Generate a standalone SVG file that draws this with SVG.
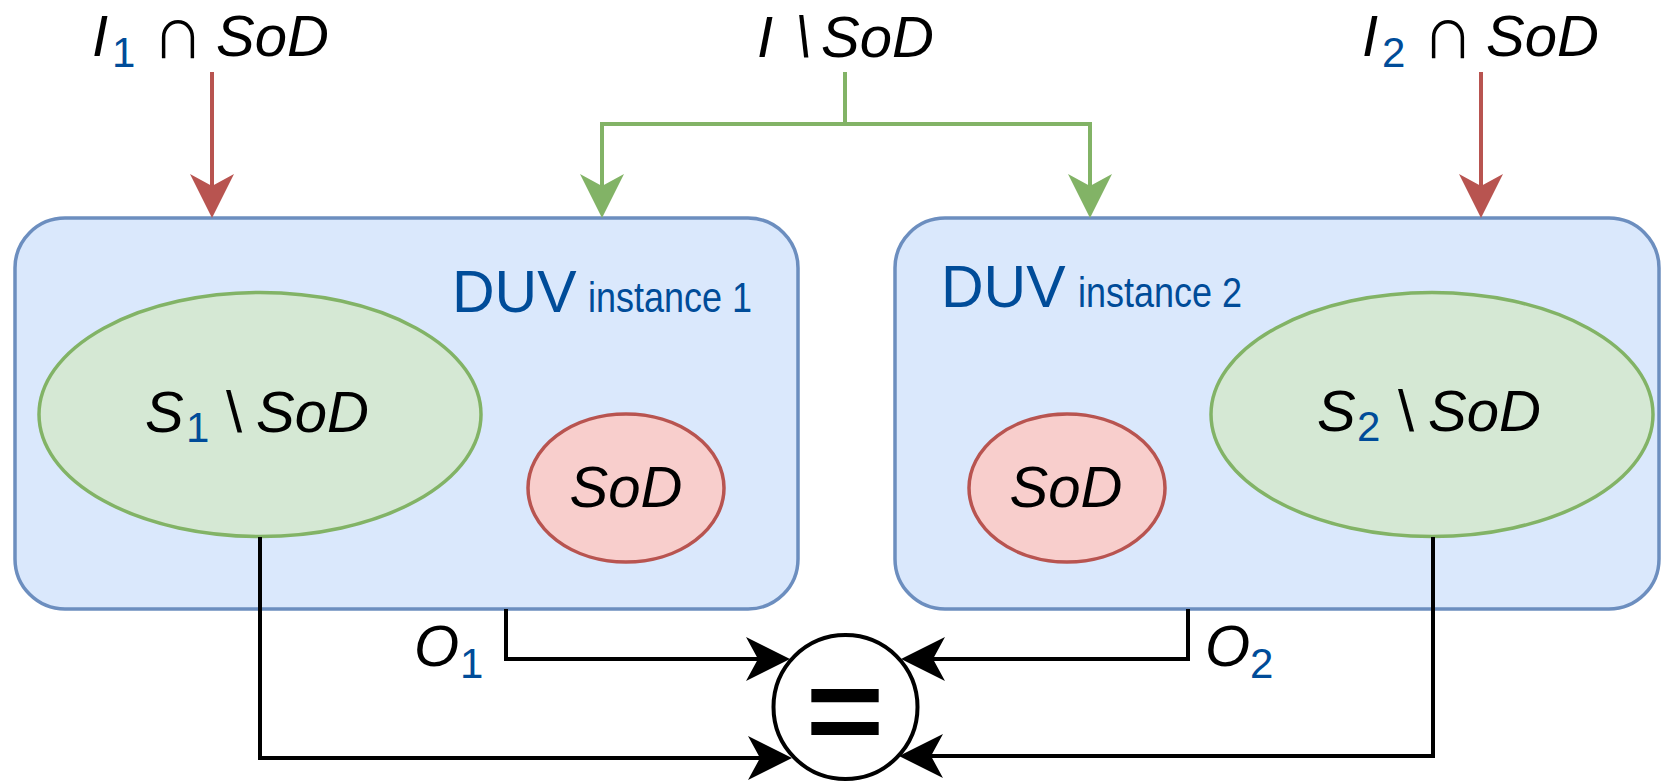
<svg xmlns="http://www.w3.org/2000/svg" width="1662" height="781" viewBox="0 0 1662 781">
  <style>
    text { font-family: "Liberation Sans", Arial, sans-serif; }
    .lbl { font-size: 58px; fill: #000; }
    .it { font-style: italic; }
    .sub { font-size: 42px; fill: #004C99; font-style: normal; }
    .cap { font-family: "Noto Sans CJK JP", "DejaVu Sans", sans-serif; font-size: 50px; font-style: normal; }
    .duv { font-size: 59px; fill: #004C99; }
    .inst { font-size: 42px; fill: #004C99; }
    .box { fill: #dae8fc; stroke: #6c8ebf; stroke-width: 3.5; }
    .grn { fill: #d5e8d4; stroke: #82b366; stroke-width: 3.5; }
    .red { fill: #f8cecc; stroke: #b85450; stroke-width: 3.5; }
    .ln { fill: none; stroke-width: 4; }
  </style>
  <defs>
    <marker id="ahRed" markerUnits="userSpaceOnUse" viewBox="-12 -22 44 44" markerWidth="44" markerHeight="44" refX="0" refY="0" orient="auto">
      <path d="M32,0 L-12,-22 L0,0 L-12,22 Z" fill="#b85450"/>
    </marker>
    <marker id="ahGrn" markerUnits="userSpaceOnUse" viewBox="-12 -22 44 44" markerWidth="44" markerHeight="44" refX="0" refY="0" orient="auto">
      <path d="M32,0 L-12,-22 L0,0 L-12,22 Z" fill="#82b366"/>
    </marker>
    <marker id="ahBlk" markerUnits="userSpaceOnUse" viewBox="-12 -22 44 44" markerWidth="44" markerHeight="44" refX="0" refY="0" orient="auto">
      <path d="M32,0 L-12,-22 L0,0 L-12,22 Z" fill="#000"/>
    </marker>
  </defs>

  <!-- input labels -->
  <g id="in1">
    <text class="lbl" y="56"><tspan class="it" x="92">I</tspan><tspan class="sub" x="112" dy="11">1</tspan><tspan class="cap" x="153" dy="-9">∩</tspan><tspan class="it" x="216" dy="-2">SoD</tspan></text>
  </g>
  <g id="in-shared">
    <text class="lbl it" y="57"><tspan x="757">I</tspan><tspan x="795">\</tspan><tspan x="821">SoD</tspan></text>
  </g>
  <g id="in2">
    <text class="lbl" y="56"><tspan class="it" x="1362">I</tspan><tspan class="sub" x="1382" dy="11">2</tspan><tspan class="cap" x="1423" dy="-9">∩</tspan><tspan class="it" x="1486" dy="-2">SoD</tspan></text>
  </g>

  <!-- DUV instance 1 -->
  <g id="duv1">
    <rect class="box" x="15" y="218" width="783" height="391" rx="50" ry="50"/>
    <text y="312"><tspan class="duv" x="452">DUV</tspan><tspan class="inst" x="588" textLength="164" lengthAdjust="spacingAndGlyphs">instance 1</tspan></text>
  </g>
  <g id="s1">
    <ellipse class="grn" cx="260" cy="414.5" rx="221" ry="122"/>
    <text class="lbl" y="432"><tspan class="it" x="145">S</tspan><tspan class="sub" x="186" dy="10">1</tspan><tspan x="226" dy="-10">\</tspan><tspan class="it" x="256">SoD</tspan></text>
  </g>
  <g id="sod1">
    <ellipse class="red" cx="626" cy="488" rx="98" ry="74"/>
    <text class="lbl it" x="626" y="507" text-anchor="middle">SoD</text>
  </g>

  <!-- DUV instance 2 -->
  <g id="duv2">
    <rect class="box" x="895" y="218" width="764" height="391" rx="50" ry="50"/>
    <text y="307"><tspan class="duv" x="941">DUV</tspan><tspan class="inst" x="1078" textLength="164" lengthAdjust="spacingAndGlyphs">instance 2</tspan></text>
  </g>
  <g id="s2">
    <ellipse class="grn" cx="1432" cy="414.5" rx="221" ry="122"/>
    <text class="lbl" y="431"><tspan class="it" x="1317">S</tspan><tspan class="sub" x="1357" dy="10">2</tspan><tspan x="1398" dy="-10">\</tspan><tspan class="it" x="1428">SoD</tspan></text>
  </g>
  <g id="sod2">
    <ellipse class="red" cx="1067" cy="488" rx="98" ry="74"/>
    <text class="lbl it" x="1066" y="507" text-anchor="middle">SoD</text>
  </g>

  <!-- comparator -->
  <g id="cmp">
    <circle cx="845.5" cy="707" r="72" fill="#fff" stroke="#000" stroke-width="4"/>
    <text x="0" y="0" text-anchor="middle" transform="translate(845 752) scale(1.12 1)" style="font-size:120px;font-weight:bold">=</text>
  </g>

  <!-- output labels -->
  <g id="o1">
    <text class="lbl" y="666"><tspan class="it" x="414">O</tspan><tspan class="sub" x="460" dy="12">1</tspan></text>
  </g>
  <g id="o2">
    <text class="lbl" y="666"><tspan class="it" x="1205">O</tspan><tspan class="sub" x="1250" dy="12">2</tspan></text>
  </g>

  <!-- connectors -->
  <g id="edges">
    <path class="ln" stroke="#b85450" d="M212,72 V186" marker-end="url(#ahRed)"/>
    <path class="ln" stroke="#b85450" d="M1481,72 V186" marker-end="url(#ahRed)"/>
    <path class="ln" stroke="#82b366" d="M845,72 V124 H602 V186" marker-end="url(#ahGrn)"/>
    <path class="ln" stroke="#82b366" d="M845,124 H1090 V186" marker-end="url(#ahGrn)"/>
    <path class="ln" stroke="#000" d="M506,609 V659 H758" marker-end="url(#ahBlk)"/>
    <path class="ln" stroke="#000" d="M260,537 V758 H760" marker-end="url(#ahBlk)"/>
    <path class="ln" stroke="#000" d="M1188,609 V659 H933" marker-end="url(#ahBlk)"/>
    <path class="ln" stroke="#000" d="M1433,537 V756 H931" marker-end="url(#ahBlk)"/>
  </g>
</svg>
